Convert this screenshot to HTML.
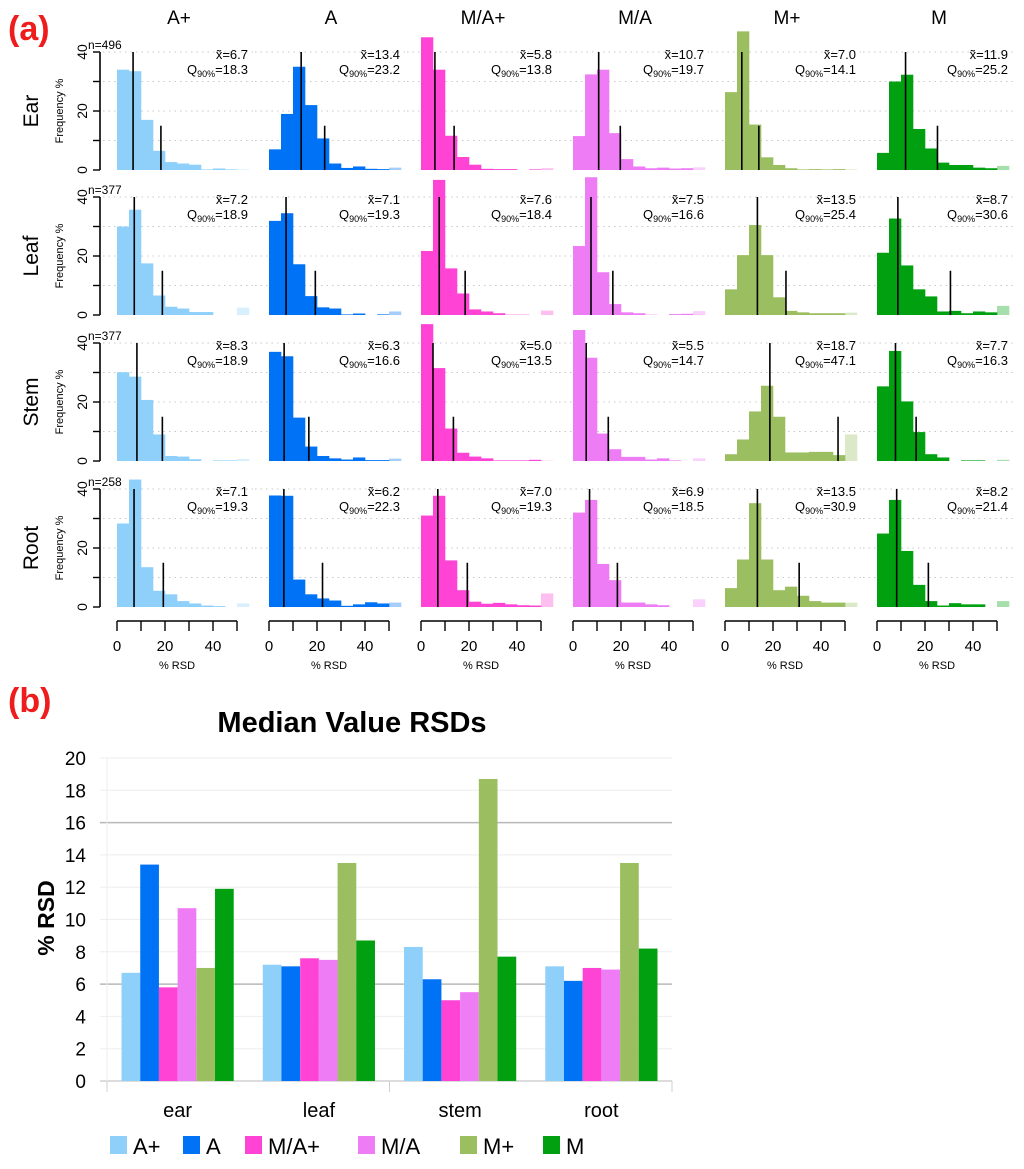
<!DOCTYPE html>
<html><head><meta charset="utf-8">
<style>
html,body{margin:0;padding:0;background:#fff;}
svg{display:block;font-family:"Liberation Sans",sans-serif;}
</style></head>
<body>
<svg id="fig" width="1024" height="1169" viewBox="0 0 1024 1169" xmlns="http://www.w3.org/2000/svg">
<text x="8" y="40" font-size="34" font-weight="bold" fill="#ee1c1c">(a)</text>
<text x="8" y="712" font-size="34" font-weight="bold" fill="#ee1c1c">(b)</text>
<g id="pa"></g>
<g id="pb"></g>
</svg>
<script>
const groups = ["A+","A","M/A+","M/A","M+","M"];
const tissues = ["Ear","Leaf","Stem","Root"];
const nCounts = [496,377,377,258];
const colors = ["#8fd0fb","#0072f5","#ff44d5","#ee7cf5","#9bbf60","#00a010"];
const binStarts = [0,5,10,15,20,25,30,35,40,45,50];
const histEar = [
 [34,33.5,17,6.5,2.7,2.2,1.8,0.2,0.5,0.2,0.2],
 [7,19,35,22,10.7,2.2,0.7,1.2,0.4,0.3,0.8],
 [45,34,11.6,4.4,1.8,0.4,0.3,0.3,0,0.2,0.6],
 [11.5,32.4,34,12.5,3.7,1.2,0.6,0.8,0.5,0.6,0.9],
 [26.4,47,15.4,4.3,1.7,0.6,0.2,0.3,0.2,0.3,0.2],
 [5.8,30,32.3,13.9,7.3,2.5,1.7,1.7,0.8,0.6,1.4]];
const histLeaf = [
 [30,35.7,17.5,6.6,2.8,2.2,1,1,0,0,2.5],
 [31.9,34.5,17.2,6.4,2.6,2.2,0.2,0.5,0,0.2,1.2],
 [21.7,45.8,15.8,7.3,1.9,1.2,0.6,0.1,0.1,0,1.5],
 [23.4,46.7,14.5,3.7,0.9,0.6,0.1,0,0.3,0.4,1.3],
 [8.7,20.3,30.5,20.3,6,1.4,0.9,0.6,0.6,0.6,0.8],
 [21.1,32.7,16.8,8.7,6.3,1.2,1.4,0.6,1.2,0.9,3.1]];
const histStem = [
 [30.1,28.6,20.7,9,1.7,1.5,0.6,0,0.2,0.2,0.7],
 [37,35.5,14.7,4.9,1.7,0.9,0.5,1.2,0.3,0.3,0.8],
 [46.4,31.5,11,2.8,1.5,0.9,0.2,0.2,0.2,0.4,0.1],
 [44.4,35,9.3,4,1.4,1.4,0.5,0.9,0.2,0,0.9],
 [2.3,7.3,16.8,25.5,15,2.9,2.9,3.1,3.1,2,9],
 [25.3,37.3,20.2,9.8,2.3,1.2,0,0.2,0.2,0,0.4]];
const histRoot = [
 [28.3,43.2,13.5,5.5,4.3,2,1.2,0.5,0.3,0,1.2],
 [37.8,37.7,9.3,4.3,2.9,2.2,0.4,0.9,1.6,1.2,1.5],
 [31,37.7,15.8,5.7,1.8,1.1,1.4,0.9,0.6,0.5,4.6],
 [32,36.3,14.6,9.1,1.5,1.5,0.9,0.6,0,0,2.6],
 [6.4,16.1,35.2,16.1,5.7,6.9,3.8,2,1.5,1.5,1.5],
 [24.9,36.3,19,7.5,2,0.5,1.3,0.9,0.9,0,2]];
const hists = [histEar,histLeaf,histStem,histRoot];
const medians = [[6.7,13.4,5.8,10.7,7.0,11.9],[7.2,7.1,7.6,7.5,13.5,8.7],[8.3,6.3,5.0,5.5,18.7,7.7],[7.1,6.2,7.0,6.9,13.5,8.2]];
const q90s = [[18.3,23.2,13.8,19.7,14.1,25.2],[18.9,19.3,18.4,16.6,25.4,30.6],[18.9,16.6,13.5,14.7,47.1,16.3],[19.3,22.3,19.3,18.5,30.9,21.4]];
const yTicks = [0,10,20,30,40];
const yTickLabels = [0,20,40];
const xTickVals = [0,10,20,30,40,50];
const xTickLabels = [0,20,40];
const barCats = ["ear","leaf","stem","root"];
const barYTicks = [0,2,4,6,8,10,12,14,16,18,20];

const NS="http://www.w3.org/2000/svg";
function mk(tag,attrs,parent,text){const e=document.createElementNS(NS,tag);for(const k in attrs)e.setAttribute(k,attrs[k]);if(text!==undefined)e.textContent=text;parent.appendChild(e);return e;}

const pa=document.getElementById('pa');
const colX0=[117,269,421,573,725,877];
const rowY0=[170,315,461,607];
const sx=2.4, sy=2.95;
function X(c,v){return colX0[c]+v*sx;}
function Y(r,v){return rowY0[r]-v*sy;}

groups.forEach((g,c)=>{
  const t=mk('text',{x:colX0[c]+62,y:24,'font-size':19,'text-anchor':'middle'},pa,g);
  
  
});
tissues.forEach((tn,r)=>{
  const cy=rowY0[r]-59;
  const t=mk('text',{x:0,y:0,'font-size':21,'text-anchor':'middle',transform:`translate(38,${cy}) rotate(-90)`},pa,tn);
  
  
  const f=mk('text',{x:0,y:0,'font-size':11,'text-anchor':'middle',transform:`translate(63,${cy}) rotate(-90)`},pa,'Frequency %');
  
  
  const ax=mk('line',{x1:100,y1:Y(r,0),x2:100,y2:Y(r,40),stroke:'#000','stroke-width':1.6},pa);
  
  
  yTicks.forEach(v=>{mk('line',{x1:93,y1:Y(r,v),x2:100,y2:Y(r,v),stroke:'#000','stroke-width':1.4},pa);});
  yTickLabels.forEach(v=>{
    const l=mk('text',{x:0,y:0,'font-size':14,'text-anchor':'middle',transform:`translate(87,${Y(r,v)}) rotate(-90)`},pa,String(v));
    
    
  });
  const n=mk('text',{x:88,y:Y(r,40)-3,'font-size':12},pa,'n='+nCounts[r]);
  
  
  groups.forEach((g,c)=>{
    const gp=mk('g',{},pa);
    
    
    [10,20,30,40].forEach(v=>{mk('line',{x1:colX0[c]-14,y1:Y(r,v),x2:colX0[c]+136,y2:Y(r,v),stroke:'#c8c8c8','stroke-width':1,'stroke-dasharray':'1.5,4'},gp);});
    hists[r][c].forEach((v,i)=>{
      const x1=X(c,binStarts[i]), x2=X(c,binStarts[i]+5);
      const b=mk('rect',{x:x1,y:Y(r,v),width:x2-x1+0.3,height:v*sy,fill:colors[c],opacity:i===10?0.35:1},gp);
      
      
    });
    const ml=mk('line',{x1:X(c,medians[r][c]),y1:Y(r,0),x2:X(c,medians[r][c]),y2:Y(r,40),stroke:'#000','stroke-width':1.6},gp);
    
    
    const ql=mk('line',{x1:X(c,q90s[r][c]),y1:Y(r,0),x2:X(c,q90s[r][c]),y2:Y(r,15),stroke:'#000','stroke-width':1.6},gp);
    
    
    const tx=colX0[c]+131;
    const mt=mk('text',{x:tx,y:Y(r,40)+7,'font-size':13,'text-anchor':'end'},gp,'x\u0303='+medians[r][c].toFixed(1));
    
    
    const qt=mk('text',{x:tx,y:Y(r,40)+22,'font-size':13,'text-anchor':'end'},gp);
    
    
    mk('tspan',{},qt,'Q');
    mk('tspan',{'font-size':9,dy:3},qt,'90%');
    mk('tspan',{dy:-3},qt,'='+q90s[r][c].toFixed(1));
  });
});
groups.forEach((g,c)=>{
  const ax=mk('line',{x1:X(c,0),y1:621,x2:X(c,50),y2:621,stroke:'#000','stroke-width':1.5},pa);
  
  
  xTickVals.forEach(v=>{mk('line',{x1:X(c,v),y1:621,x2:X(c,v),y2:631,stroke:'#000','stroke-width':1.4},pa);});
  xTickLabels.forEach(v=>{
    const l=mk('text',{x:X(c,v),y:651,'font-size':15,'text-anchor':'middle'},pa,String(v));
    
    
  });
  const xt=mk('text',{x:X(c,25),y:669,'font-size':11,'text-anchor':'middle'},pa,'% RSD');
  
  
});

// Panel b
const pb=document.getElementById('pb');
const bx0=107, bx1=672, by0=1081, bsy=16.15;
function BY(v){return by0-v*bsy;}
const tt=mk('text',{x:352,y:732,'font-size':29,'font-weight':'bold','text-anchor':'middle'},pb,'Median Value RSDs');


barYTicks.forEach(v=>{
  const dark=(v===6||v===16);
  if(v>0) mk('line',{x1:100,y1:BY(v),x2:bx1,y2:BY(v),stroke:dark?'#b8b8b8':'#eeeeee','stroke-width':dark?1.5:1},pb);
  const l=mk('text',{x:86,y:BY(v)+7,'font-size':19,'text-anchor':'end'},pb,String(v));
  
  
});
mk('line',{x1:100,y1:by0,x2:bx1,y2:by0,stroke:'#d0d0d0','stroke-width':1.5},pb);
mk('line',{x1:bx0,y1:by0,x2:bx0,y2:by0+11,stroke:'#d0d0d0'},pb);
mk('line',{x1:(bx0+bx1)/2,y1:by0,x2:(bx0+bx1)/2,y2:by0+11,stroke:'#d0d0d0'},pb);
mk('line',{x1:bx1,y1:by0,x2:bx1,y2:by0+11,stroke:'#d0d0d0'},pb);
mk('line',{x1:bx0,y1:BY(20),x2:bx0,y2:by0,stroke:'#eeeeee'},pb);
const yt=mk('text',{x:0,y:0,'font-size':23,'font-weight':'bold','text-anchor':'middle',transform:'translate(54,918) rotate(-90)'},pb,'% RSD');


const groupW=(bx1-bx0)/barCats.length, barW=18.7;
barCats.forEach((cat,k)=>{
  const cx=bx0+groupW*(k+0.5);
  groups.forEach((g,c)=>{
    const v=medians[k][c];
    const b=mk('rect',{x:cx-3*barW+c*barW,y:BY(v),width:barW,height:v*bsy,fill:colors[c]},pb);
    
    
  });
  const l=mk('text',{x:cx,y:1117,'font-size':20,'text-anchor':'middle'},pb,cat);
  
  
});
const legX=[110,183,245,358,460,543];
groups.forEach((g,c)=>{
  const sw=mk('rect',{x:legX[c],y:1136,width:17,height:18,fill:colors[c]},pb);
  
  
  const t=mk('text',{x:legX[c]+23,y:1154,'font-size':22},pb,g);
  
  
});
</script>
</body></html>
